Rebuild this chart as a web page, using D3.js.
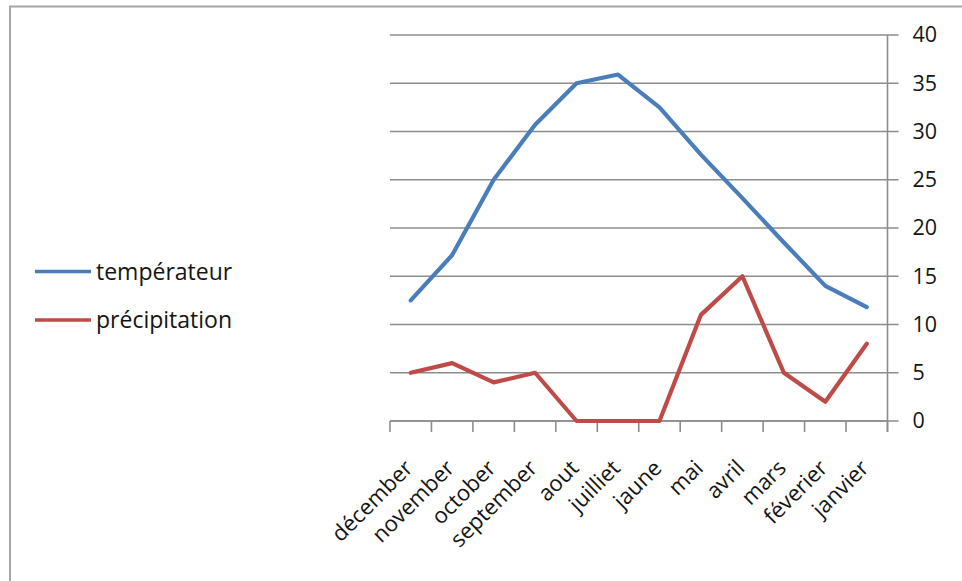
<!DOCTYPE html>
<html>
<head>
<meta charset="utf-8">
<script src="https://cdn.jsdelivr.net/npm/d3@7"></script>
<style>
  html, body { margin: 0; padding: 0; background: #fff; }
  svg { display: block; }
  text { font-family: "Open Sans", sans-serif; fill: #141414; }
</style>
</head>
<body>
<svg id="chart" width="962" height="581"></svg>
<script>
// Monthly climate values, listed from December back to January
const months = ["décember", "november", "october", "september", "aout", "juilliet",
                "jaune", "mai", "avril", "mars", "féverier", "janvier"];
const temperature = [12.5, 17.2, 25, 30.7, 35, 35.9, 32.5, 27.6, 23.1, 18.5, 14, 11.8];
const precipitation = [5, 6, 4, 5, 0, 0, 0, 11, 15, 5, 2, 8];
const yTicks = [0, 5, 10, 15, 20, 25, 30, 35, 40];
const seriesNames = ["températeur", "précipitation"];
const seriesColors = ["#4a7ebb", "#be4b48"];

const svg = d3.select("#chart");

// Outer chart frame
svg.append("rect")
  .attr("x", 10).attr("y", 6.5)
  .attr("width", 1000).attr("height", 700)
  .attr("fill", "none").attr("stroke", "#a6a6a6").attr("stroke-width", 2);

const plot = { left: 390, right: 887.5, top: 35, bottom: 421 };

const x = d3.scaleBand().domain(months).range([plot.left, plot.right]);
const xc = m => x(m) + x.bandwidth() / 2;
const y = d3.scaleLinear().domain([0, 40]).range([plot.bottom, plot.top]);

const gridColor = "#8c8c8c";

// Horizontal gridlines, running out past the right axis as tick marks
svg.append("g").selectAll("line").data(yTicks).join("line")
  .attr("x1", plot.left).attr("x2", plot.right + 11)
  .attr("y1", d => y(d)).attr("y2", d => y(d))
  .attr("stroke", gridColor).attr("stroke-width", 1.6);

// Right value axis
const yAxis = d3.axisRight(y).tickValues(yTicks).tickSize(0).tickPadding(25);
const gy = svg.append("g")
  .attr("transform", `translate(${plot.right},0)`)
  .call(yAxis);
gy.select(".domain").remove();
gy.selectAll("text")
  .style("font-family", "'Open Sans', sans-serif")
  .style("font-size", "21.5px")
  .attr("fill", "#141414");
svg.append("line")
  .attr("x1", plot.right).attr("x2", plot.right)
  .attr("y1", plot.top).attr("y2", plot.bottom + 11)
  .attr("stroke", gridColor).attr("stroke-width", 1.6);

// Category axis along the bottom with ticks at band edges
const xAxis = d3.axisBottom(x).tickSize(0).tickFormat("");
const gx = svg.append("g")
  .attr("transform", `translate(0,${plot.bottom})`)
  .call(xAxis);
gx.select(".domain").remove();
svg.append("line")
  .attr("x1", plot.left).attr("x2", plot.right)
  .attr("y1", plot.bottom).attr("y2", plot.bottom)
  .attr("stroke", gridColor).attr("stroke-width", 1.6);
const edges = months.map(m => x(m)).concat([plot.right]);
svg.append("g").selectAll("line").data(edges).join("line")
  .attr("x1", d => d).attr("x2", d => d)
  .attr("y1", plot.bottom).attr("y2", plot.bottom + 11)
  .attr("stroke", gridColor).attr("stroke-width", 1.6);

// Rotated month labels
svg.append("g").selectAll("text").data(months).join("text")
  .attr("transform", d => `translate(${xc(d) - 2},${plot.bottom + 43}) rotate(-45)`)
  .attr("text-anchor", "end")
  .attr("dy", "0.35em")
  .style("font-size", "22px")
  .text(d => d);

// Series lines
const line = d3.line().x((d, i) => xc(months[i])).y(d => y(d));
[temperature, precipitation].forEach((vals, k) => {
  svg.append("path")
    .datum(vals)
    .attr("d", line)
    .attr("fill", "none")
    .attr("stroke", seriesColors[k])
    .attr("stroke-width", 4.2)
    .attr("stroke-linejoin", "round")
    .attr("stroke-linecap", "round");
});

// Legend
const legendY = [271.5, 320];
const lg = svg.append("g");
seriesNames.forEach((name, k) => {
  lg.append("line")
    .attr("x1", 35).attr("x2", 91)
    .attr("y1", legendY[k]).attr("y2", legendY[k])
    .attr("stroke", seriesColors[k]).attr("stroke-width", 3.6);
  lg.append("text")
    .attr("x", 96).attr("y", legendY[k])
    .attr("dy", "0.35em")
    .style("font-size", "23px")
    .text(name);
});
</script>
</body>
</html>
